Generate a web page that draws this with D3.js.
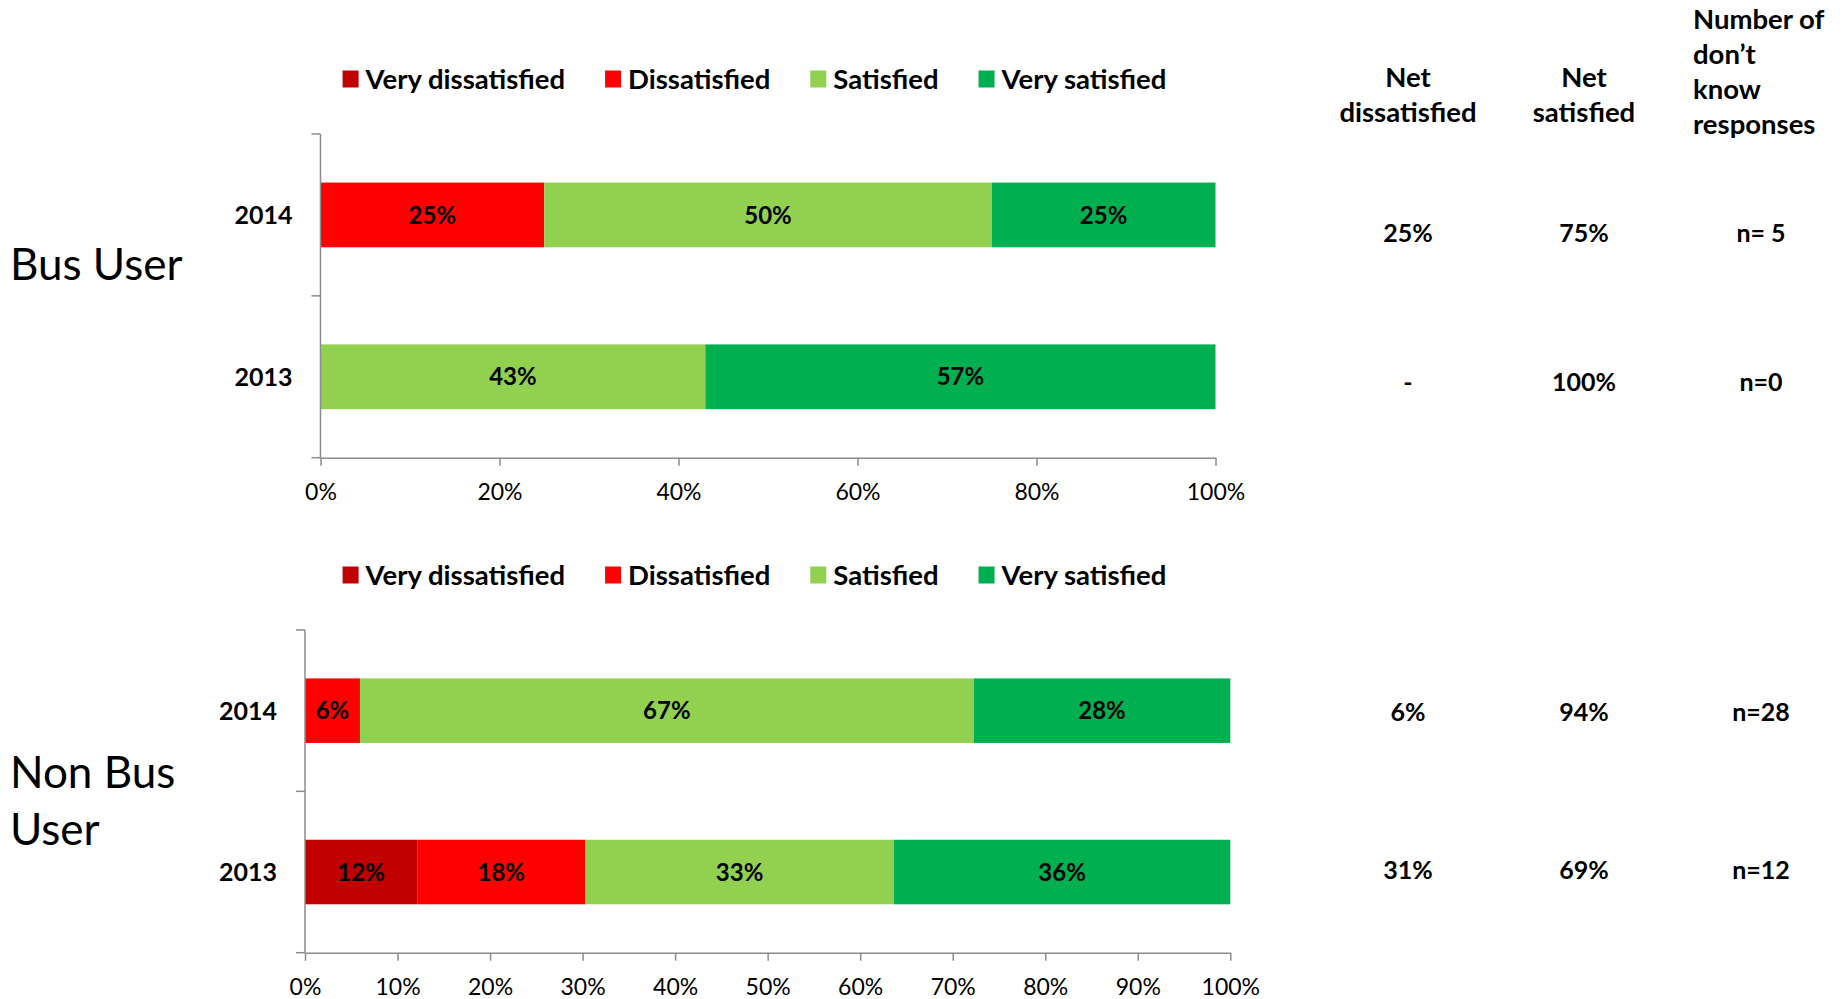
<!DOCTYPE html>
<html>
<head>
<meta charset="utf-8">
<script src="https://cdn.jsdelivr.net/npm/d3@7/dist/d3.min.js"></script>
<style>
  html, body { margin: 0; padding: 0; background: #ffffff; }
  svg { display: block; font-family: Lato, "Open Sans", sans-serif; }
</style>
</head>
<body>
<svg id="chart" width="1843" height="999"></svg>
<script>
// ---- Data ----------------------------------------------------------------
const categories = ["Very dissatisfied", "Dissatisfied", "Satisfied", "Very satisfied"];
const colors = ["#C00000", "#FF0000", "#92D050", "#00B050"];
const years = ["2014", "2013"];

// Bus users: one array per year, values in category order (%)
const bus2014 = [0, 25, 50, 25];
const bus2013 = [0, 0, 43, 57];

// Non bus users
const nonBus2014 = [0, 6, 67, 28];
const nonBus2013 = [12, 18, 33, 36];

// Summary columns beside each chart
const tableHeaders = [["Net", "dissatisfied"], ["Net", "satisfied"], ["Number of", "don\u2019t", "know", "responses"]];
const busNetDissatisfied = ["25%", "-"];
const busNetSatisfied = ["75%", "100%"];
const busDontKnow = ["n= 5", "n=0"];
const nonBusNetDissatisfied = ["6%", "31%"];
const nonBusNetSatisfied = ["94%", "69%"];
const nonBusDontKnow = ["n=28", "n=12"];

const busTicks = [0, 0.2, 0.4, 0.6, 0.8, 1];
const nonBusTicks = [0, 0.1, 0.2, 0.3, 0.4, 0.5, 0.6, 0.7, 0.8, 0.9, 1];

// ---- Layout --------------------------------------------------------------
const panels = [
  {
    title: ["Bus User"], titleY: [280],
    rows: [bus2014, bus2013], ticks: busTicks,
    x0: 320.5, x1: 1215.5, yTop: 134, yBot: 457.7, legendY: 79,
    table: [busNetDissatisfied, busNetSatisfied, busDontKnow], tableRowY: [232.5, 382]
  },
  {
    title: ["Non Bus", "User"], titleY: [788, 845],
    rows: [nonBus2014, nonBus2013], ticks: nonBusTicks,
    x0: 305, x1: 1230.3, yTop: 630, yBot: 952.7, legendY: 575,
    table: [nonBusNetDissatisfied, nonBusNetSatisfied, nonBusDontKnow], tableRowY: [711.5, 870]
  }
];

const svg = d3.select("#chart");
const axisColor = "#8c8c8c";

panels.forEach(p => {
  const g = svg.append("g");

  // stacked 100% bars (normalised to each row's total)
  const table = p.rows.map((vals, i) => {
    const o = { year: years[i] };
    categories.forEach((c, j) => o[c] = vals[j]);
    return o;
  });
  const series = d3.stack().keys(categories).offset(d3.stackOffsetExpand)(table);

  const x = d3.scaleLinear().domain([0, 1]).range([p.x0, p.x1]);
  const y = d3.scaleBand().domain(years).range([p.yTop, p.yBot])
    .paddingInner(0.6).paddingOuter(0.3);

  const layers = g.selectAll("g.layer").data(series).join("g")
    .attr("class", "layer")
    .attr("fill", (d, i) => colors[i]);

  layers.selectAll("rect").data(d => d.filter(s => s.data[d.key] > 0)).join("rect")
    .attr("x", d => x(d[0]))
    .attr("y", d => y(d.data.year))
    .attr("width", d => x(d[1]) - x(d[0]))
    .attr("height", y.bandwidth());

  layers.each(function (layer) {
    d3.select(this).selectAll("text").data(layer.filter(s => s.data[layer.key] > 0)).join("text")
      .attr("x", d => (x(d[0]) + x(d[1])) / 2)
      .attr("y", d => y(d.data.year) + y.bandwidth() / 2)
      .attr("dy", "0.36em")
      .attr("text-anchor", "middle")
      .attr("fill", "#000")
      .attr("font-size", 24)
      .attr("font-weight", 700)
      .text(d => d.data[layer.key] + "%");
  });

  // x axis
  const xAxis = g.append("g")
    .attr("transform", `translate(0,${p.yBot})`)
    .call(d3.axisBottom(x).tickValues(p.ticks).tickFormat(d3.format(".0%"))
      .tickSizeInner(8).tickSizeOuter(0));
  xAxis.select(".domain").attr("stroke", axisColor).attr("stroke-width", 1.5);
  xAxis.selectAll(".tick line").attr("stroke", axisColor).attr("stroke-width", 1.5);
  xAxis.selectAll(".tick text")
    .attr("y", 26).attr("dy", "0.71em")
    .attr("font-size", 23).attr("font-family", "Lato, sans-serif").attr("fill", "#000");

  // y axis: line with ticks at the band boundaries
  const bounds = years.map(yr => y(yr) - y.step() * y.paddingInner() / 2);
  bounds[0] = p.yTop;
  bounds.push(p.yBot);
  g.append("line")
    .attr("x1", p.x0).attr("x2", p.x0)
    .attr("y1", p.yTop).attr("y2", p.yBot)
    .attr("stroke", axisColor).attr("stroke-width", 1.5);
  g.selectAll("line.ytick").data(bounds).join("line")
    .attr("class", "ytick")
    .attr("x1", p.x0 - 9).attr("x2", p.x0)
    .attr("y1", d => d).attr("y2", d => d)
    .attr("stroke", axisColor).attr("stroke-width", 1.5);

  // year labels
  g.selectAll("text.year").data(years).join("text")
    .attr("class", "year")
    .attr("x", p.x0 - 28)
    .attr("y", d => y(d) + y.bandwidth() / 2)
    .attr("dy", "0.36em")
    .attr("text-anchor", "end")
    .attr("font-size", 25)
    .attr("font-weight", 700)
    .text(d => d);

  // group title
  g.selectAll("text.title").data(p.title).join("text")
    .attr("class", "title")
    .attr("x", 10)
    .attr("y", (d, i) => p.titleY[i])
    .attr("font-size", 44)
    .text(d => d);

  // legend
  const legend = g.append("g").attr("transform", `translate(342.6,${p.legendY})`);
  let lx = 0;
  categories.forEach((c, i) => {
    const item = legend.append("g").attr("transform", `translate(${lx},0)`);
    item.append("rect").attr("x", 0).attr("y", -8.5).attr("width", 16).attr("height", 17)
      .attr("fill", colors[i]);
    const t = item.append("text").attr("x", 23).attr("y", 0).attr("dy", "0.36em")
      .attr("font-size", 27.5).attr("font-weight", 700).text(c);
    lx += 23 + t.node().getComputedTextLength() + 40;
  });

  // summary columns
  const colX = [1408, 1584, 1761];
  p.table.forEach((col, ci) => {
    g.selectAll(null).data(col).join("text")
      .attr("x", colX[ci])
      .attr("y", (d, ri) => p.tableRowY[ri])
      .attr("dy", "0.36em")
      .attr("text-anchor", "middle")
      .attr("font-size", 25)
      .attr("font-weight", 700)
      .text(d => d);
  });
});

// column headers above the top summary table
const headerLayout = [
  { x: 1408, anchor: "middle", y0: 87.3 },
  { x: 1584, anchor: "middle", y0: 87.3 },
  { x: 1693, anchor: "start", y0: 29.3 }
];
tableHeaders.forEach((lines, i) => {
  const h = headerLayout[i];
  svg.append("g").selectAll("text").data(lines).join("text")
    .attr("x", h.x)
    .attr("y", (d, j) => h.y0 + j * 35)
    .attr("text-anchor", h.anchor)
    .attr("font-size", 27.5)
    .attr("font-weight", 700)
    .text(d => d);
});
</script>
</body>
</html>
